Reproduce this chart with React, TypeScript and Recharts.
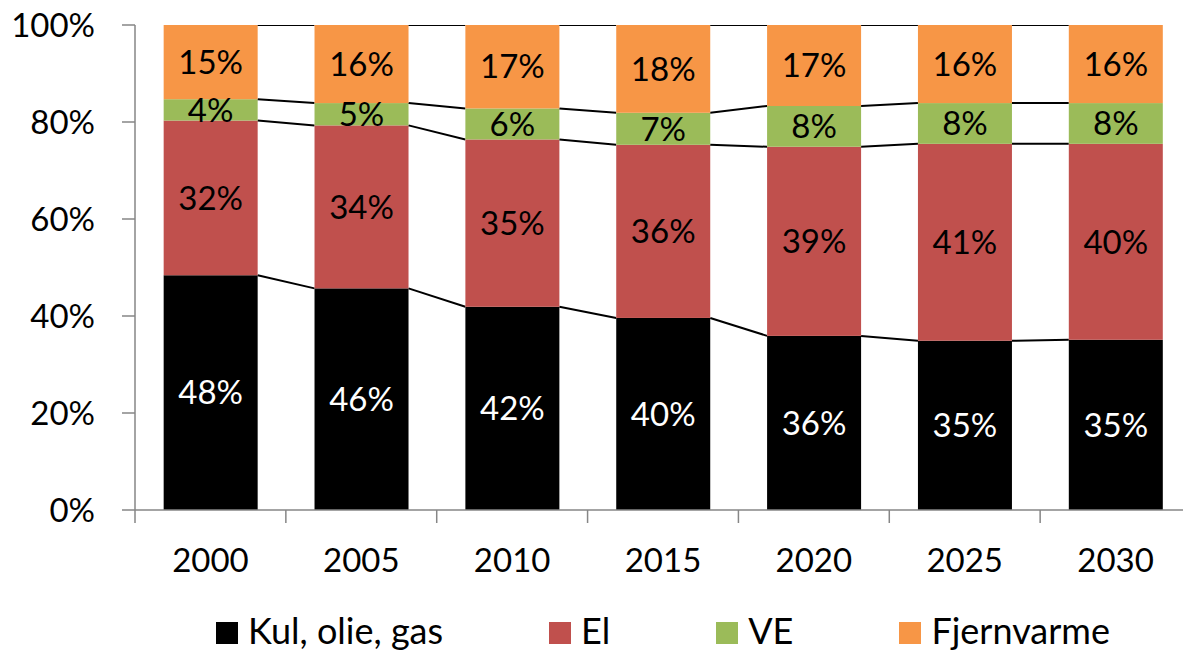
import React from 'react';
import { BarChart, Bar, XAxis, YAxis, Legend, LabelList } from 'recharts';

const years = ['2000', '2005', '2010', '2015', '2020', '2025', '2030'];
const fossil = [48.4, 45.7, 41.9, 39.6, 35.9, 34.9, 35.1];
const electricity = [31.9, 33.6, 34.5, 35.7, 39.0, 40.6, 40.4];
const renewables = [4.4, 4.6, 6.4, 6.6, 8.4, 8.4, 8.4];
const districtHeating = [15.3, 16.1, 17.2, 18.1, 16.7, 16.1, 16.1];
const yTicks = [0, 20, 40, 60, 80, 100];

const seriesNames = ['Kul, olie, gas', 'El', 'VE', 'Fjernvarme'];
const seriesKeys = ['fossil', 'el', 've', 'fjv'];
const seriesColors = ['#000000', '#C0504D', '#9BBB59', '#F79646'];
const labelColors = ['#ffffff', '#000000', '#000000', '#000000'];
const seriesValues = [fossil, electricity, renewables, districtHeating];

const data = years.map((year, i) => ({
  year,
  fossil: fossil[i],
  el: electricity[i],
  ve: renewables[i],
  fjv: districtHeating[i],
}));

const CHART_W = 1200;
const CHART_H = 654;
const MARGIN = { top: 25, right: 9, bottom: 84, left: 0 };
const Y_AXIS_W = 135;
const PLOT_W = CHART_W - MARGIN.left - MARGIN.right - Y_AXIS_W;
const BAND = PLOT_W / years.length;
const TICK_SIZE = 13;
const X_TICK_MARGIN = 26;
const AXIS_COLOR = '#868686';
const FONT = 'Lato, "Open Sans", sans-serif';
const FONT_SIZE = 33;

// top of the stack for series k at category i
const stackTop = (k: number, i: number) =>
  seriesValues.slice(0, k + 1).reduce((sum, arr) => sum + arr[i], 0);

// bar segment plus the Excel-style series line to the next bar
function makeShape(k: number) {
  return (props: any) => {
    const { x, y, width, height, index } = props;
    let line = null;
    if (index + 1 < years.length && height > 0) {
      const pxPerUnit = height / seriesValues[k][index];
      const yNext = y - (stackTop(k, index + 1) - stackTop(k, index)) * pxPerUnit;
      line = (
        <line x1={x + width} y1={y} x2={x + BAND} y2={yNext} stroke="#000" strokeWidth={2} />
      );
    }
    return (
      <g>
        <rect x={x} y={y} width={width} height={height} fill={seriesColors[k]} />
        {line}
      </g>
    );
  };
}

const XTick = (props: any) => {
  const { x, y, payload, index } = props;
  const axisY = y - TICK_SIZE - X_TICK_MARGIN;
  const left = x - BAND / 2;
  return (
    <g>
      <line x1={left} y1={axisY} x2={left} y2={axisY + TICK_SIZE} stroke={AXIS_COLOR} strokeWidth={1.5} />
      {index === years.length - 1 && (
        <line x1={x + BAND / 2} y1={axisY} x2={x + BAND / 2} y2={axisY + TICK_SIZE} stroke={AXIS_COLOR} strokeWidth={1.5} />
      )}
      <text x={x} y={y} dy="0.71em" textAnchor="middle" fontSize={FONT_SIZE} fontFamily={FONT} fill="#000">
        {payload.value}
      </text>
    </g>
  );
};

const renderLegend = () => (
  <div
    style={{
      display: 'flex',
      justifyContent: 'center',
      alignItems: 'baseline',
      gap: 106,
      fontFamily: FONT,
      fontSize: 36,
      lineHeight: '42px',
      color: '#000',
    }}
  >
    {seriesNames.map((name, k) => (
      <div key={name} style={{ display: 'flex', alignItems: 'baseline' }}>
        <span
          style={{ display: 'inline-block', width: 22, height: 22, background: seriesColors[k], marginRight: 10 }}
        />
        <span>{name}</span>
      </div>
    ))}
  </div>
);

const fmt = (v: any) => `${Math.round(Number(v))}%`;

export default function App() {
  return (
    <div
      style={{
        position: 'absolute',
        left: 0,
        top: 0,
        width: 1183,
        height: CHART_H,
        overflow: 'hidden',
        background: '#fff',
        fontFamily: FONT,
      }}
    >
      <BarChart width={CHART_W} height={CHART_H} data={data} margin={MARGIN} barCategoryGap="19%">
        <XAxis
          dataKey="year"
          height={60}
          tickSize={TICK_SIZE}
          tickMargin={X_TICK_MARGIN}
          tickLine={false}
          axisLine={{ stroke: AXIS_COLOR, strokeWidth: 1.5 }}
          tick={<XTick />}
          interval={0}
        />
        <YAxis
          width={Y_AXIS_W}
          domain={[0, 100]}
          allowDataOverflow
          ticks={yTicks}
          tickFormatter={(v) => `${v}%`}
          tickSize={TICK_SIZE}
          tickMargin={27}
          tickLine={{ stroke: AXIS_COLOR, strokeWidth: 1.5 }}
          axisLine={{ stroke: AXIS_COLOR, strokeWidth: 1.5 }}
          tick={{ fontSize: FONT_SIZE, fontFamily: FONT, fill: '#000' }}
        />
        <Legend
          layout="horizontal"
          verticalAlign="middle"
          align="center"
          content={renderLegend}
          wrapperStyle={{ top: 609, left: Y_AXIS_W, width: PLOT_W }}
        />
        {seriesKeys.map((key, k) => (
          <Bar
            key={key}
            dataKey={key}
            name={seriesNames[k]}
            stackId="a"
            fill={seriesColors[k]}
            shape={makeShape(k)}
            isAnimationActive={false}
          >
            <LabelList
              dataKey={key}
              position="center"
              formatter={fmt}
              fill={labelColors[k]}
              fontSize={FONT_SIZE}
              fontFamily={FONT}
            />
          </Bar>
        ))}
      </BarChart>
    </div>
  );
}
